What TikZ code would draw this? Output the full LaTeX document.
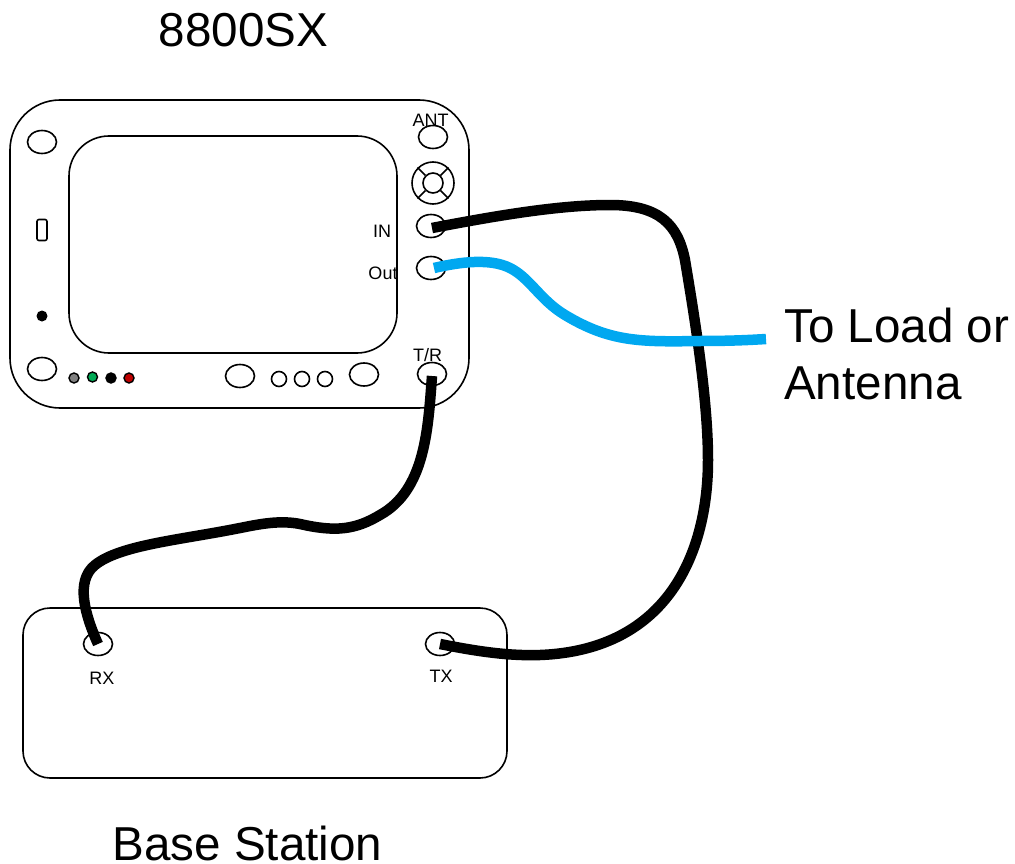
\documentclass[tikz,border=0pt]{standalone}
\usepackage{xcolor}
\usepackage{fontspec}
\setmainfont{Liberation Sans}
\usetikzlibrary{shapes.geometric, positioning, calc}
\definecolor{mydark}{RGB}{0,0,0}
\definecolor{myblue}{RGB}{0,168,240}
\definecolor{mygrey}{RGB}{128,128,128}
\definecolor{mygreen}{RGB}{0,170,85}
\definecolor{myred}{RGB}{190,0,0}
\tikzset{
  panel/.style={rectangle, draw=mydark, fill=white, line width=1.6pt, inner sep=0pt},
  port/.style={ellipse, draw=mydark, fill=white, line width=1.6pt,
    minimum width=29pt, minimum height=23pt, inner sep=0pt},
  knob/.style={circle, draw=mydark, fill=white, line width=1.6pt,
    minimum size=15pt, inner sep=0pt},
  led/.style={circle, draw=mydark, line width=1.4pt, minimum size=10pt, inner sep=0pt},
  cable/.style={line width=10.5pt, color=mydark, line join=round},
  bluecable/.style={line width=10.5pt, color=myblue, line join=round},
  biglabel/.style={font=\fontsize{47.6}{57}\selectfont, align=left, inner sep=0pt},
  smalllabel/.style={font=\fontsize{18}{20}\selectfont, inner sep=0pt}
}
\begin{document}
\begin{tikzpicture}[x=1pt, y=-1pt]
  \useasboundingbox (0,0) rectangle (1015,864);

  % 8800SX front panel
  \node[panel, minimum width=459pt, minimum height=308pt, rounded corners=50pt] (unit) at (239.5,254) {};
  \node[panel, minimum width=328pt, minimum height=217pt, rounded corners=40pt] (screen) at (233,244.5) {};

  % Left column
  \node[port] (holeA) at (42,142) {};
  \node[panel, minimum width=10pt, minimum height=21pt, rounded corners=2pt] (slot) at (42,230) {};
  \node[circle, fill=mydark, minimum size=11pt, inner sep=0pt] (dot) at (42,316) {};
  \node[port] (holeB) at (42,369) {};

  % LEDs
  \node[led, fill=mygrey] (ledA) at (74,378) {};
  \node[led, fill=mygreen] (ledB) at (92.5,377) {};
  \node[led, fill=mydark] (ledC) at (111,378) {};
  \node[led, fill=myred] (ledD) at (129,378) {};

  % Bottom buttons
  \node[port] (btnA) at (240,376) {};
  \node[knob] (knobA) at (279,379) {};
  \node[knob] (knobB) at (302,379) {};
  \node[knob] (knobC) at (325,379) {};
  \node[port] (btnB) at (364,374.5) {};

  % Right column
  \node[port] (ant) at (433,137) {};
  \node[smalllabel] (antlabel) at (430.5,120) {ANT};
  \node[circle, draw=mydark, fill=white, line width=1.6pt, minimum size=42pt, inner sep=0pt] (conn) at (433,183) {};
  \node[circle, draw=mydark, line width=1.6pt, minimum size=20pt, inner sep=0pt] (connin) at (433,183) {};
  \foreach \a in {45,135,225,315} {
    \draw[line width=1.6pt] (connin.\a) -- (conn.\a);
  }
  \node[port] (in) at (431,226) {};
  \node[smalllabel] (inlabel) at (382,231) {IN};
  \node[port] (out) at (431,268) {};
  \node[smalllabel] (outlabel) at (383,273) {Out};
  \node[port] (tr) at (432,374) {};
  \node[smalllabel] (trlabel) at (427.5,355) {T/R};

  % Base station
  \node[panel, minimum width=484pt, minimum height=170pt, rounded corners=27pt] (base) at (265,693) {};
  \node[port] (rx) at (98,644) {};
  \node[smalllabel] (rxlabel) at (102,678) {RX};
  \node[port] (tx) at (440,644) {};
  \node[smalllabel] (txlabel) at (441,676) {TX};

  % Titles
  \node[biglabel] (title) at (243.5,30) {8800SX};
  \node[biglabel, anchor=west] (loadlabel) at (784,354) {To Load or\\Antenna};
  \node[biglabel] (baselabel) at (247.5,843) {Base Station};
  \coordinate (loadend) at (766,339);

  % Cables
  \draw[cable] (in.center) ++(1,2) .. controls (500,215) and (560,205) .. (610,205)
    .. controls (660,205) and (678,225) .. (685,260)
    .. controls (695,320) and (708,400) .. (708,460)
    .. controls (708,550) and (670,650) .. (540,655)
    .. controls (510,656) and (480,652) .. (tx.center);
  \draw[cable] (tr.center) ++(0,2) .. controls (428,430) and (425,490) .. (380,515)
    .. controls (355,530) and (335,532) .. (300,524)
    .. controls (280,520) and (260,524) .. (240,528)
    .. controls (180,540) and (120,545) .. (95,565)
    .. controls (75,581) and (85,615) .. (rx.center);
  \draw[bluecable] (out.center) ++(3,0) .. controls (460,262) and (490,258) .. (510,268)
    .. controls (530,278) and (540,300) .. (565,315)
    .. controls (610,342) and (640,342) .. (700,341)
    .. controls (730,341) and (750,340) .. (loadend);
\end{tikzpicture}
\end{document}
